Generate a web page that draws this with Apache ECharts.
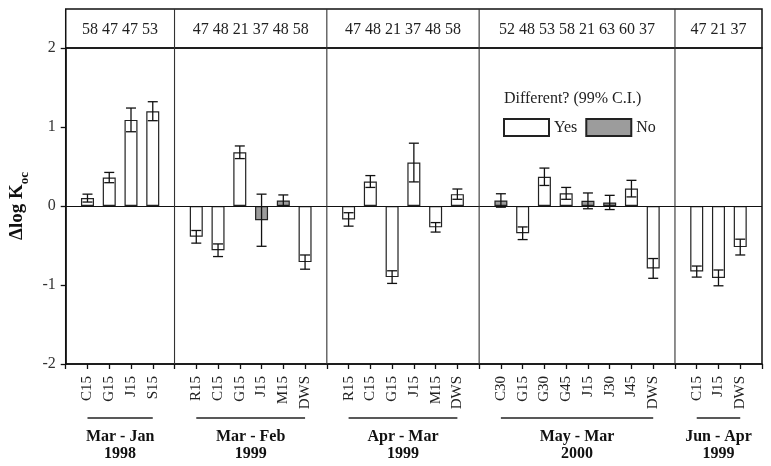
<!DOCTYPE html>
<html><head><meta charset="utf-8">
<script src="https://cdn.jsdelivr.net/npm/echarts@6/dist/echarts.min.js"></script>
<style>html,body{margin:0;padding:0;background:#fff}#c{width:771px;height:466px}</style>
</head><body><div id="c"></div>
<script>
// ---- data ----
const groupTitles = ['Mar - Jan', 'Mar - Feb', 'Apr - Mar', 'May - Mar', 'Jun - Apr'];
const groupYears  = ['1998', '1999', '1999', '2000', '1999'];
const groupCats = [
  ['C15', 'G15', 'J15', 'S15'],
  ['R15', 'C15', 'G15', 'J15', 'M15', 'DWS'],
  ['R15', 'C15', 'G15', 'J15', 'M15', 'DWS'],
  ['C30', 'G15', 'G30', 'G45', 'J15', 'J30', 'J45', 'DWS'],
  ['C15', 'J15', 'DWS']
];
const groupValues = [
  [0.10, 0.36, 1.09, 1.20],
  [-0.39, -0.56, 0.68, -0.18, 0.07, -0.71],
  [-0.17, 0.31, -0.90, 0.55, -0.27, 0.15],
  [0.07, -0.345, 0.37, 0.16, 0.065, 0.045, 0.22, -0.79],
  [-0.83, -0.91, -0.52]
];
const groupErrors = [
  [0.05, 0.065, 0.15, 0.12],
  [0.08, 0.08, 0.08, 0.33, 0.07, 0.09],
  [0.085, 0.075, 0.08, 0.245, 0.06, 0.065],
  [0.085, 0.08, 0.11, 0.075, 0.10, 0.09, 0.105, 0.125],
  [0.07, 0.10, 0.10]
];
// 1 = different (Yes), 0 = not different (No)
const groupDifferent = [
  [1, 1, 1, 1],
  [1, 1, 1, 0, 0, 1],
  [1, 1, 1, 1, 1, 1],
  [0, 1, 1, 1, 0, 0, 1, 1],
  [1, 1, 1]
];
const groupN = ['58 47 47 53', '47 48 21 37 48 58', '47 48 21 37 48 58', '52 48 53 58 21 63 60 37', '47 21 37'];
const yTicks = [-2, -1, 0, 1, 2];

// ---- build slots ----
const slots = [''];
const yesData = ['-'], noData = ['-'], errData = [];
const groupSlotRanges = [];
const dividerSlots = [0];
groupCats.forEach((cats, g) => {
  const start = slots.length;
  cats.forEach((c, i) => {
    const idx = slots.length;
    slots.push(c);
    const v = groupValues[g][i], e = groupErrors[g][i];
    if (groupDifferent[g][i]) { yesData.push(v); noData.push('-'); }
    else { yesData.push('-'); noData.push(v); }
    errData.push([idx, v - e, v + e]);
  });
  groupSlotRanges.push([start, slots.length - 1]);
  dividerSlots.push(slots.length);
  slots.push('');
  yesData.push('-'); noData.push('-');
});

const SERIF = '"Liberation Serif", "DejaVu Serif", serif';
const chart = echarts.init(document.getElementById('c'), null, {renderer: 'canvas'});

function renderErr(params, api) {
  const x = api.value(0), lo = api.value(1), hi = api.value(2);
  const a = api.coord([x, lo]), b = api.coord([x, hi]);
  const hw = 5;
  const style = {stroke: '#111', lineWidth: 1.3, fill: null};
  return {type: 'group', children: [
    {type: 'line', shape: {x1: a[0], y1: a[1], x2: b[0], y2: b[1]}, style: style},
    {type: 'line', shape: {x1: a[0] - hw, y1: a[1], x2: a[0] + hw, y2: a[1]}, style: style},
    {type: 'line', shape: {x1: b[0] - hw, y1: b[1], x2: b[0] + hw, y2: b[1]}, style: style}
  ]};
}

chart.setOption({
  animation: false,
  backgroundColor: '#fff',
  title: {
    text: 'Different? (99% C.I.)', left: 499, top: 86,
    textStyle: {fontFamily: SERIF, fontSize: 16, fontWeight: 'normal', color: '#222'}
  },
  legend: {
    data: ['Yes', 'No'], left: 498, top: 113, itemWidth: 45, itemHeight: 17, itemGap: 8,
    icon: 'rect',
    textStyle: {fontFamily: SERIF, fontSize: 16, color: '#222', padding: [0, 0, 0, 0]},
    selectedMode: false
  },
  grid: {left: 60, right: 9, top: 48, bottom: 102, show: true, borderColor: '#111', borderWidth: 1.5, backgroundColor: 'transparent'},
  xAxis: {
    type: 'category', data: slots, boundaryGap: false,
    axisLine: {onZero: false, lineStyle: {color: '#111', width: 1.5}},
    axisTick: {show: true, interval: 0, length: 5, lineStyle: {color: '#111', width: 1.3}},
    axisLabel: {interval: 0, rotate: 90, fontFamily: SERIF, fontSize: 15, color: '#222', margin: 12},
    splitLine: {show: false}
  },
  yAxis: {
    type: 'value', min: yTicks[0], max: yTicks[yTicks.length - 1], interval: 1,
    name: '{a|Δlog K}{b|oc}', nameLocation: 'middle', nameRotate: 90, nameGap: 33,
    nameTextStyle: {
      rich: {
        a: {fontFamily: SERIF, fontSize: 19, fontWeight: 'bold', color: '#111', lineHeight: 28, verticalAlign: 'middle'},
        b: {fontFamily: SERIF, fontSize: 13, fontWeight: 'bold', color: '#111', lineHeight: 14, verticalAlign: 'bottom'}
      }
    },
    axisLine: {show: true, lineStyle: {color: '#111', width: 1.5}},
    axisTick: {show: true, length: 5, lineStyle: {color: '#111', width: 1.3}},
    axisLabel: {fontFamily: SERIF, fontSize: 16, color: '#333', margin: 10},
    splitLine: {show: false}
  },
  series: [
    {
      name: 'Yes', type: 'bar', data: yesData, barWidth: 13, barGap: '-100%',
      itemStyle: {color: '#fff', borderColor: '#222', borderWidth: 1.2},
      markLine: {
        silent: true, symbol: 'none', label: {show: false},
        lineStyle: {color: '#111', type: 'solid', width: 1.2},
        data: [{yAxis: 0}]
      },
      z: 2
    },
    {
      name: 'No', type: 'bar', data: noData, barWidth: 13, barGap: '-100%',
      itemStyle: {color: '#9c9c9c', borderColor: '#222', borderWidth: 1.2},
      z: 2
    },
    {
      name: 'err', type: 'custom', renderItem: renderErr, data: errData, z: 5,
      encode: {x: 0, y: [1, 2]}
    }
  ]
});

// ---- annotations positioned through the axes ----
function px(slot, val) { return chart.convertToPixel({gridIndex: 0}, [slot, val]); }
const topY = px(0, 2)[1], botY = px(0, -2)[1];
const tableTop = 9;
const gfx = [];
// table frame
gfx.push({type: 'rect', shape: {x: px(0, 0)[0], y: tableTop, width: px(slots.length - 1, 0)[0] - px(0, 0)[0], height: topY - tableTop},
  style: {fill: null, stroke: '#111', lineWidth: 1.5}, z: 10});
// dividers
dividerSlots.slice(1, -1).forEach(s => {
  const x = px(s, 0)[0];
  gfx.push({type: 'line', shape: {x1: x, y1: tableTop, x2: x, y2: botY}, style: {stroke: '#333', lineWidth: 1.1}, z: 10});
});
// n counts
for (let g = 0; g < groupN.length; g++) {
  const x1 = px(dividerSlots[g], 0)[0], x2 = px(dividerSlots[g + 1], 0)[0];
  gfx.push({type: 'text', x: (x1 + x2) / 2, y: (tableTop + topY) / 2 + 1,
    style: {text: groupN[g], fontFamily: SERIF, fontSize: 16, fill: '#222', align: 'center', verticalAlign: 'middle'}, z: 10});
}
// group underlines and labels
groupSlotRanges.forEach((r, g) => {
  const xa = px(r[0], 0)[0], xb = px(r[1], 0)[0];
  const uy = botY + 54;
  gfx.push({type: 'line', shape: {x1: xa, y1: uy, x2: xb, y2: uy}, style: {stroke: '#222', lineWidth: 1.3}, z: 10});
  gfx.push({type: 'text', x: (xa + xb) / 2, y: uy + 10,
    style: {text: groupTitles[g] + '\n' + groupYears[g], fontFamily: SERIF, fontSize: 16, fontWeight: 'bold', fill: '#111',
      align: 'center', verticalAlign: 'top', lineHeight: 17}, z: 10});
});
chart.setOption({graphic: {elements: gfx}});
</script>
</body></html>
